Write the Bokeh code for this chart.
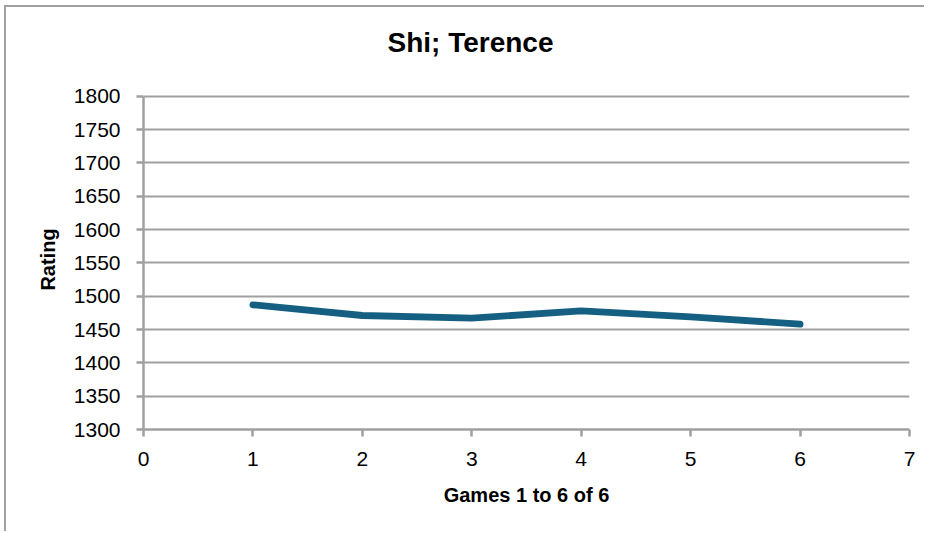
from bokeh.plotting import figure
from bokeh.models import Range1d, FixedTicker, Title
from bokeh.embed import file_html
from bokeh.resources import INLINE

games = [1, 2, 3, 4, 5, 6]
ratings = [1487, 1471, 1467, 1478, 1469, 1458]
x_ticks = [0, 1, 2, 3, 4, 5, 6, 7]
y_ticks = [1300, 1350, 1400, 1450, 1500, 1550, 1600, 1650, 1700, 1750, 1800]
title_text = "Shi; Terence"
x_label = "Games 1 to 6 of 6"
y_label = "Rating"

FONT = "Liberation Sans"
GRID = "#a0a0a0"
LINE = "#156082"

p = figure(width=920, height=526, output_backend="svg", toolbar_location=None,
           title=None,
           x_range=Range1d(0, 7), y_range=Range1d(1300, 1810),
           min_border_left=137, min_border_right=17, min_border_top=82,
           min_border_bottom=104)

p.outline_line_color = None
p.background_fill_color = "white"
p.border_fill_color = "white"

# spacer between frame and title
spacer = Title(text=" ", text_font_size="1px", standoff=27)
p.add_layout(spacer, "above")
main_title = Title(text=title_text, text_font=FONT, text_font_size="28px",
                   text_font_style="bold", text_color="black", align="left",
                   offset=244, standoff=4)
p.add_layout(main_title, "above")

p.line(games, ratings, line_color=LINE, line_width=6.8, line_cap="round", line_join="round")

p.xgrid.grid_line_color = None
p.ygrid.grid_line_color = GRID
p.ygrid.grid_line_width = 2
p.ygrid.ticker = FixedTicker(ticks=y_ticks)

p.xaxis.ticker = FixedTicker(ticks=x_ticks)
p.yaxis.ticker = FixedTicker(ticks=y_ticks)
p.yaxis.bounds = (1300, 1800)
for ax in (p.xaxis[0], p.yaxis[0]):
    ax.axis_line_color = GRID
    ax.axis_line_width = 2.5
    ax.major_tick_line_color = GRID
    ax.major_tick_line_width = 2.5
    ax.major_tick_in = 0
    ax.major_tick_out = 7
    ax.minor_tick_line_color = None
    ax.major_label_text_font = FONT
    ax.major_label_text_font_size = "21px"
    ax.major_label_text_color = "black"
    ax.axis_label_text_font = FONT
    ax.axis_label_text_font_size = "20px"
    ax.axis_label_text_font_style = "bold"
    ax.axis_label_text_color = "black"

p.xaxis.axis_label = x_label
p.yaxis.axis_label = y_label
p.xaxis.major_label_standoff = 15
p.yaxis.major_label_standoff = 16
p.xaxis.axis_label_standoff = 15
p.yaxis.axis_label_standoff = 12

p.styles = {"border-left": "2px solid #a0a0a0", "border-top": "2px solid #a0a0a0",
            "margin-left": "4px", "margin-top": "5px"}

open("out.html", "w").write(file_html(p, INLINE))
